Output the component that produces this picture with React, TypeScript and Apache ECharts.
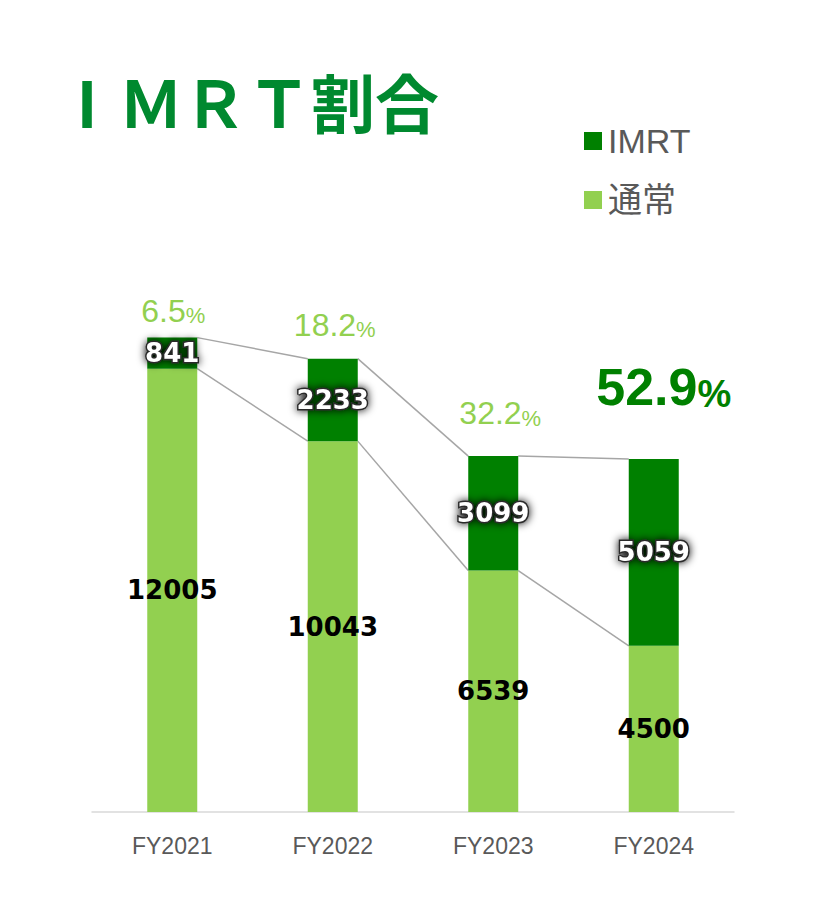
import { useEffect, useRef } from 'react';
import * as echarts from 'echarts';

const categories = ['FY2021', 'FY2022', 'FY2023', 'FY2024'];
const normalValues = [12005, 10043, 6539, 4500];
const imrtValues = [841, 2233, 3099, 5059];
const imrtRatios = ['6.5', '18.2', '32.2', '52.9'];

const DARK = '#008000';
const LIGHT = '#92D050';
const BAR_WIDTH = 50;

// how far each ratio label sits above its bar, and a small sideways nudge
const ratioLift = [11, 18, 27, 46];
const ratioShift = [1, 2, 7, 10];

const App: React.FC = () => {
  const divRef = useRef<HTMLDivElement | null>(null);

  useEffect(() => {
    if (!divRef.current) return;
    const chart = echarts.init(divRef.current, null, { renderer: 'svg' });

    const totals = normalValues.map((v, i) => v + imrtValues[i]);
    const connectorData = categories.slice(0, -1).map((_, i) => [
      i,
      totals[i],
      totals[i + 1],
      normalValues[i],
      normalValues[i + 1],
    ]);
    const ratioData = categories.map((_, i) => [i, totals[i], i]);

    const valueFont = {
      fontFamily: 'DejaVu Sans',
      fontWeight: 'bold' as const,
      fontSize: 26,
    };

    const titleLetter = {
      width: 64,
      align: 'center',
      fontSize: 64,
      fontWeight: 'bold',
      fontFamily: 'Noto Sans CJK JP',
      fill: '#00892F',
    };

    const option: any = {
      animation: false,
      graphic: [
        {
          type: 'text',
          x: 55,
          y: 100,
          style: {
            text: '{l|I}{l|Ｍ}{l|Ｒ}{l|Ｔ}{k|割合}',
            verticalAlign: 'middle',
            rich: {
              l: titleLetter,
              k: {
                fontSize: 64,
                fontWeight: 'bold',
                fontFamily: 'Noto Sans CJK JP',
                fill: '#00892F',
              },
            },
          },
        },
      ],
      legend: {
        data: ['IMRT', '通常'],
        orient: 'vertical',
        left: 579,
        top: 119,
        itemWidth: 18,
        itemHeight: 18,
        itemGap: 25,
        icon: 'rect',
        textStyle: {
          fontSize: 34,
          color: '#595959',
          fontFamily: 'Liberation Sans, Noto Sans CJK JP',
          padding: [0, 0, 0, 1],
        },
      },
      grid: { left: 92, right: 97, top: 295, bottom: 106 },
      xAxis: {
        type: 'category',
        data: categories,
        axisTick: { show: false },
        axisLine: { lineStyle: { color: '#D9D9D9', width: 1.5 } },
        axisLabel: {
          color: '#595959',
          fontSize: 23,
          fontFamily: 'Liberation Sans',
          margin: 22,
        },
      },
      yAxis: {
        type: 'value',
        min: 0,
        max: 14000,
        show: false,
        splitLine: { show: false },
      },
      series: [
        {
          name: '通常',
          type: 'bar',
          stack: 'total',
          barWidth: BAR_WIDTH,
          data: normalValues,
          itemStyle: { color: LIGHT },
          label: {
            show: true,
            position: 'inside',
            color: '#000',
            ...valueFont,
          },
        },
        {
          name: 'IMRT',
          type: 'bar',
          stack: 'total',
          barWidth: BAR_WIDTH,
          data: imrtValues,
          itemStyle: { color: DARK },
          label: {
            show: true,
            position: 'inside',
            color: '#fff',
            textBorderColor: '#2b2b2b',
            textBorderWidth: 3,
            textShadowColor: 'rgba(0,0,0,1)',
            textShadowBlur: 8,
            ...valueFont,
          },
        },
        {
          type: 'custom',
          silent: true,
          z: 1,
          data: connectorData,
          encode: { x: 0, y: 1 },
          renderItem: (_params: any, api: any) => {
            const i = api.value(0);
            const half = BAR_WIDTH / 2;
            const a = api.coord([i, api.value(1)]);
            const b = api.coord([i + 1, api.value(2)]);
            const c = api.coord([i, api.value(3)]);
            const d = api.coord([i + 1, api.value(4)]);
            const lineStyle = { stroke: '#A6A6A6', lineWidth: 1.5 };
            return {
              type: 'group',
              children: [
                {
                  type: 'line',
                  shape: { x1: a[0] + half, y1: a[1], x2: b[0] - half, y2: b[1] },
                  style: lineStyle,
                },
                {
                  type: 'line',
                  shape: { x1: c[0] + half, y1: c[1], x2: d[0] - half, y2: d[1] },
                  style: lineStyle,
                },
              ],
            };
          },
        },
        {
          type: 'custom',
          silent: true,
          data: ratioData,
          encode: { x: 0, y: 1 },
          renderItem: (_params: any, api: any) => {
            const i = api.value(2);
            const p = api.coord([api.value(0), api.value(1)]);
            const last = i === categories.length - 1;
            return {
              type: 'text',
              x: p[0] + ratioShift[i],
              y: p[1] - ratioLift[i],
              style: {
                text: `{a|${imrtRatios[i]}}{b|%}`,
                align: 'center',
                verticalAlign: 'bottom',
                rich: last
                  ? {
                      a: {
                        fontSize: 52,
                        lineHeight: 52,
                        fontWeight: 'bold',
                        fontFamily: 'Liberation Sans',
                        fill: DARK,
                        verticalAlign: 'bottom',
                      },
                      b: {
                        fontSize: 38,
                        lineHeight: 38,
                        fontWeight: 'bold',
                        fontFamily: 'Liberation Sans',
                        fill: DARK,
                        verticalAlign: 'bottom',
                      },
                    }
                  : {
                      a: {
                        fontSize: 32,
                        lineHeight: 32,
                        fontFamily: 'Liberation Sans',
                        fill: LIGHT,
                        verticalAlign: 'bottom',
                      },
                      b: {
                        fontSize: 22,
                        lineHeight: 22,
                        fontFamily: 'Liberation Sans',
                        fill: LIGHT,
                        verticalAlign: 'bottom',
                      },
                    },
              },
            };
          },
        },
      ],
    };

    chart.setOption(option);
    return () => chart.dispose();
  }, []);

  return (
    <div
      ref={divRef}
      style={{ position: 'fixed', left: 0, top: 0, width: 831, height: 918, background: '#fff' }}
    />
  );
};

export default App;
